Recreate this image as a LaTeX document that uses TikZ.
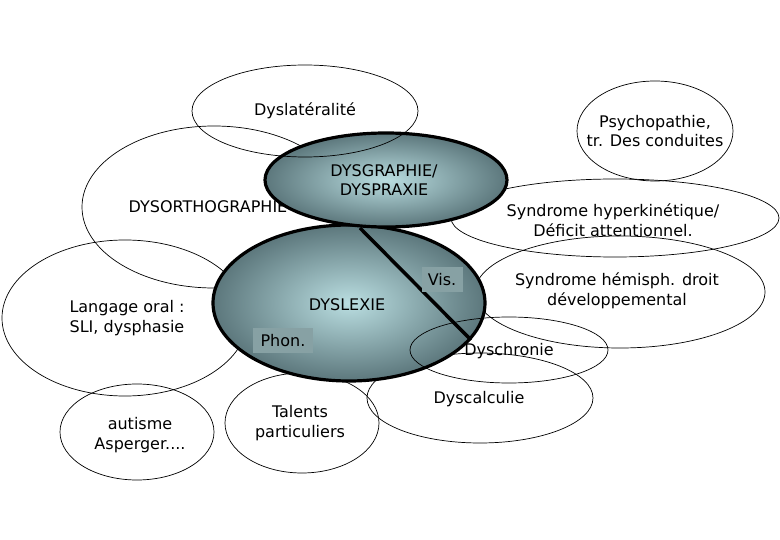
\documentclass[tikz,border=0pt]{standalone}
\usepackage{fontspec}
\setmainfont{DejaVu Sans}
\definecolor{cin}{HTML}{BADEE1}
\definecolor{cout}{HTML}{5C777C}
\definecolor{tagc}{HTML}{87A1A4}
\begin{document}
\begin{tikzpicture}[x=1pt,y=-1pt,font=\fontsize{16}{19.5}\selectfont]
\tikzset{
  thinell/.style={draw=black,line width=0.7pt},
  darkell/.style={draw=black,line width=3.2pt,inner color=cin,outer color=cout},
  lbl/.style={align=center,inner sep=0pt},
  tagbox/.style={fill=tagc,inner sep=0pt,minimum height=25pt},
  visline/.style={line width=3.5pt}
}
\useasboundingbox (0,0) rectangle (780,540);
% outline ellipses beneath the dark ones
\draw[thinell] (214,207) ellipse [x radius=132,y radius=81];
\draw[thinell] (125,318) ellipse [x radius=123,y radius=78];
\draw[thinell] (302,423) ellipse [x radius=77,y radius=50];
\draw[thinell] (480,398) ellipse [x radius=113,y radius=45];
\draw[thinell] (615,218) ellipse [x radius=164,y radius=39];
\draw[thinell] (620,292) ellipse [x radius=145,y radius=56];
\draw[thinell] (137,432) ellipse [x radius=77,y radius=48];
\draw[thinell] (655,131) ellipse [x radius=78,y radius=50];
\node[lbl] (ortho) at (208,207) {DYSORTHOGRAPHIE};
% dark ellipses
\path[darkell] (349,303) ellipse [x radius=136,y radius=78];
\path[darkell] (386,180) ellipse [x radius=121,y radius=47];
% outline ellipses over the dark ones
\draw[thinell] (305,111) ellipse [x radius=113,y radius=46];
\draw[thinell] (509,350) ellipse [x radius=99,y radius=33];
% dividing line
\coordinate (vtop) at (360,228);
\coordinate (vbot) at (471,340);
\draw[visline] (vtop) -- (vbot);
% tags
\node[tagbox,minimum width=41pt] (vis) at (442,280) {Vis.};
\node[tagbox,minimum width=60pt] (phon) at (283,341) {Phon.};
% labels
\node[lbl] (lat) at (305,111) {Dyslatéralité};
\node[lbl] (graph) at (384,180) {DYSGRAPHIE/\\DYSPRAXIE};
\node[lbl] (lex) at (347,305) {DYSLEXIE};
\node[lbl] (psy) at (655,131) {Psychopathie,\\tr. Des conduites};
\node[lbl] (hyper) at (613,220) {Syndrome hyperkinétique/\\Déficit attentionnel.};
\node[lbl] (hemi) at (617,291) {Syndrome hémisph. droit\\développemental};
\node[lbl] (chron) at (509,351) {Dyschronie};
\node[lbl] (calc) at (479,399) {Dyscalculie};
\node[lbl] (lang) at (127,318) {Langage oral :\\SLI, dysphasie};
\node[lbl] (aut) at (140,435) {autisme\\Asperger....};
\node[lbl] (tal) at (300,423) {Talents\\particuliers};
\end{tikzpicture}
\end{document}
